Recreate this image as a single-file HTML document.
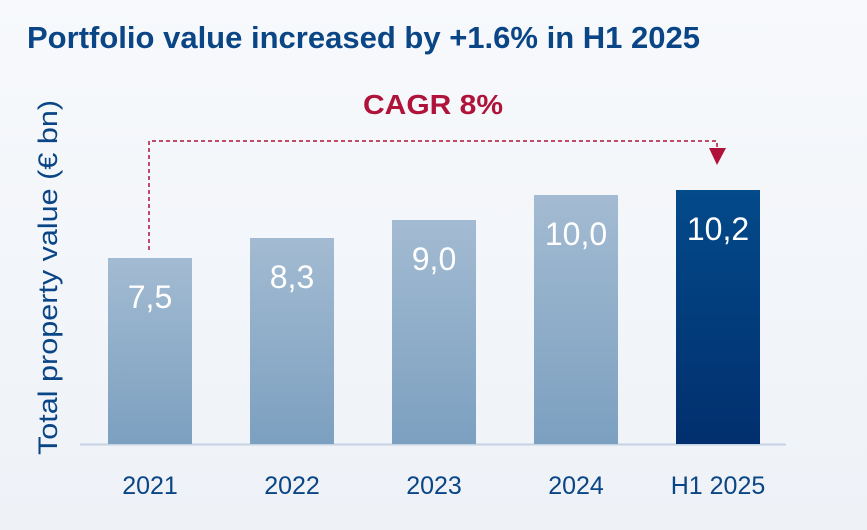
<!DOCTYPE html>
<html><head><meta charset="utf-8"><style>
html,body{margin:0;padding:0}
body{width:867px;height:530px;overflow:hidden;background:linear-gradient(#f7f9fc,#eef2f7);font-family:"Liberation Sans",sans-serif;position:relative}
</style></head><body>
<svg width="867" height="530" xmlns="http://www.w3.org/2000/svg" style="position:absolute;left:0;top:0">
<defs>
<linearGradient id="lg" x1="0" y1="0" x2="0" y2="1"><stop offset="0" stop-color="#a3bbd2"/><stop offset="1" stop-color="#7ca0c0"/></linearGradient>
<linearGradient id="dg" x1="0" y1="0" x2="0" y2="1"><stop offset="0" stop-color="#034a8a"/><stop offset="1" stop-color="#022f6e"/></linearGradient>
</defs>
<text x="27" y="48" font-size="31" font-weight="bold" fill="#0a4585" textLength="673" lengthAdjust="spacingAndGlyphs">Portfolio value increased by +1.6% in H1 2025</text>
<text x="363" y="114" font-size="28" font-weight="bold" fill="#b0133a" textLength="140" lengthAdjust="spacingAndGlyphs">CAGR 8%</text>
<polyline points="149,250 149,141 717,141 717,148" fill="none" stroke="#b0133a" stroke-width="1.5" stroke-dasharray="4,3"/>
<polygon points="709,148 726,148 717,165" fill="#b0133a"/>
<text transform="translate(57,455) rotate(-90)" font-size="27" fill="#0a4585" textLength="355" lengthAdjust="spacingAndGlyphs">Total property value (€ bn)</text>
<line x1="80" y1="444.5" x2="786" y2="444.5" stroke="#c5d3e2" stroke-width="2"/>
<rect x="108" y="258" width="84" height="186" fill="url(#lg)"/>
<rect x="250" y="238" width="84" height="206" fill="url(#lg)"/>
<rect x="392" y="220" width="84" height="224" fill="url(#lg)"/>
<rect x="534" y="195" width="84" height="249" fill="url(#lg)"/>
<rect x="676" y="190" width="84" height="254" fill="url(#dg)"/>
<g font-size="32" fill="#fff" text-anchor="middle">
<text x="150" y="308">7,5</text>
<text x="292" y="288">8,3</text>
<text x="434" y="270">9,0</text>
<text x="576" y="245">10,0</text>
<text x="718" y="240">10,2</text>
</g>
<g font-size="25" fill="#0a4585" text-anchor="middle">
<text x="150" y="494">2021</text>
<text x="292" y="494">2022</text>
<text x="434" y="494">2023</text>
<text x="576" y="494">2024</text>
<text x="718" y="494">H1 2025</text>
</g>
</svg>
</body></html>
